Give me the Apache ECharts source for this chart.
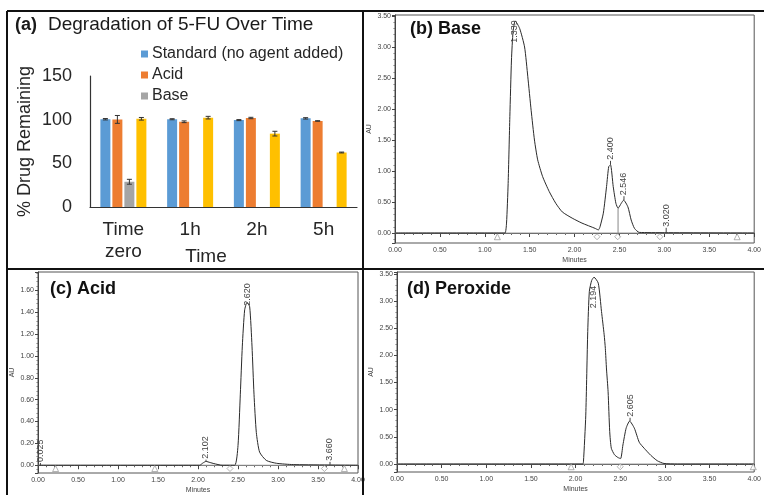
<!DOCTYPE html>
<html>
<head>
<meta charset="utf-8">
<script src="https://cdn.jsdelivr.net/npm/echarts@6/dist/echarts.min.js"></script>
<style>
html,body{margin:0;padding:0;background:#fff;}
#c{width:764px;height:495px;}
</style>
</head>
<body>
<div id="c"></div>
<script>
// ---------- Panel (a): bar chart data ----------
const barCategories = ['Time\nzero', '1h', '2h', '5h'];
const legendNames = ['Standard (no agent added)', 'Acid', 'Base'];
const standardVals = [100.5, 100.5, 99.5, 101.5];
const standardErr = [0.8, 0.6, 0.6, 0.8];
const acidVals = [100.3, 97.6, 101.9, 98.5];
const acidErr = [4.5, 1.0, 0.8, 0.3];
const baseVals = [28.9, null, null, null];
const baseErr = [2.8, null, null, null];
const peroxideVals = [101.0, 102.3, 84.0, 62.4];
const peroxideErr = [1.5, 1.5, 2.7, 0.5];
const barYTicks = [0, 50, 100, 150];

// ---------- Panel (b): Base chromatogram ----------
const bTime = [0, 1.15, 1.224, 1.242, 1.26, 1.279, 1.297, 1.315, 1.339, 1.388, 1.443, 1.479, 1.516, 1.553, 1.589, 1.644, 1.717, 1.79, 1.863, 1.973, 2.082, 2.228, 2.265, 2.283, 2.32, 2.356, 2.38, 2.40, 2.43, 2.46, 2.484, 2.52, 2.546, 2.594, 2.63, 2.667, 2.72, 3.0, 4.0];
const bAU   = [0, 0, 0.0, 0.16, 0.8, 1.88, 2.79, 3.25, 3.42, 3.30, 3.00, 2.52, 1.98, 1.50, 1.18, 0.91, 0.67, 0.48, 0.34, 0.24, 0.16, 0.075, 0.05, 0.10, 0.32, 0.75, 1.07, 1.10, 0.75, 0.48, 0.40, 0.48, 0.53, 0.42, 0.21, 0.075, 0.01, 0.005, 0];
const bTriTimes = [1.14, 3.81];
const bDiaTimes = [2.25, 2.48, 2.95];
const bPeakTimes = [1.333, 2.40, 2.55, 3.02];
const bPeakAU = [3.42, 1.10, 0.53, 0.0];
const bLabelAU = [3.07, 1.18, 0.61, 0.10];
const bPeakText = ['1.339', '2.400', '2.546', '3.020'];
const bDropTime = [2.484, 2.484];
const bDropAU = [0, 0.40];

// ---------- Panel (c): Acid chromatogram ----------
const cTime = [0, 2.02, 2.06, 2.10, 2.15, 2.2, 2.3, 2.458, 2.5, 2.529, 2.554, 2.583, 2.613, 2.646, 2.675, 2.70, 2.729, 2.77, 2.854, 2.98, 3.19, 4.0];
const cAU   = [0, 0, 0.02, 0.035, 0.025, 0.015, 0, 0, 0.18, 0.65, 1.09, 1.42, 1.49, 1.45, 1.09, 0.65, 0.30, 0.12, 0.044, 0.018, 0.006, 0];
const cTriTimes = [0.22, 1.46, 3.83];
const cDiaTimes = [2.40, 3.58];
const cPeakTimes = [0.03, 2.10, 2.62, 3.65];
const cPeakAU = [0, 0.035, 1.49, 0];
const cLabelAU = [0.03, 0.06, 1.46, 0.04];
const cPeakText = ['0.025', '2.102', '2.620', '3.660'];

// ---------- Panel (d): Peroxide chromatogram ----------
const dTime = [0, 2.08, 2.088, 2.114, 2.136, 2.154, 2.18, 2.206, 2.254, 2.29, 2.32, 2.333, 2.346, 2.364, 2.382, 2.40, 2.436, 2.474, 2.504, 2.53, 2.566, 2.605, 2.658, 2.713, 2.768, 2.842, 2.915, 2.99, 3.14, 4.0];
const dAU   = [0, 0, 0.04, 0.9, 2.44, 3.18, 3.38, 3.44, 3.33, 2.81, 2.38, 2.13, 1.75, 1.33, 0.60, 0.29, 0.17, 0.12, 0.10, 0.35, 0.66, 0.79, 0.66, 0.40, 0.29, 0.16, 0.06, 0.01, 0, 0];
const dTriTimes = [1.95, 3.99];
const dDiaTimes = [2.50];
const dPeakTimes = [2.20, 2.61];
const dPeakAU = [3.44, 0.79];
const dLabelAU = [2.87, 0.87];
const dPeakText = ['2.194', '2.605'];

const FONT = '"Liberation Sans", Arial, sans-serif';
const chart = echarts.init(document.getElementById('c'), null, {renderer: 'canvas'});

// bar layout constants
const BW = 10, BGAP = 2;
function errSeries(name, vals, errs, idx) {
  const offset = (idx - 1.5) * (BW + BGAP);
  return {
    type: 'custom', name: name + ' err', xAxisIndex: 0, yAxisIndex: 0, z: 5,
    data: vals.map((v, i) => (v == null ? [i, NaN, NaN] : [i, v, errs[i]])),
    renderItem: function (params, api) {
      const v = api.value(1), e = api.value(2);
      if (isNaN(v)) return null;
      const top = api.coord([api.value(0), v + e]);
      const bot = api.coord([api.value(0), v - e]);
      const x = top[0] + offset;
      const st = {stroke: '#333', lineWidth: 1};
      return {type: 'group', children: [
        {type: 'line', shape: {x1: x, y1: top[1], x2: x, y2: bot[1]}, style: st},
        {type: 'line', shape: {x1: x - 2.5, y1: top[1], x2: x + 2.5, y2: top[1]}, style: st},
        {type: 'line', shape: {x1: x - 2.5, y1: bot[1], x2: x + 2.5, y2: bot[1]}, style: st}
      ]};
    }
  };
}

function zip(a, b) { return a.map((v, i) => [v, b[i]]); }

function chromXAxis(gi) {
  return {
    type: 'value', gridIndex: gi, min: 0, max: 4, interval: 0.5,
    name: 'Minutes', nameLocation: 'middle', nameGap: 14,
    nameTextStyle: {fontSize: 7, color: '#444', fontFamily: FONT},
    axisLine: {show: true, lineStyle: {color: '#444', width: 1}},
    axisTick: {show: true, length: 4, lineStyle: {color: '#444'}},
    minorTick: {show: true, splitNumber: 5, length: 2, lineStyle: {color: '#666'}},
    splitLine: {show: false},
    axisLabel: {fontSize: 7, color: '#444', fontFamily: FONT, margin: 4,
      formatter: v => v.toFixed(2)}
  };
}
function chromYAxis(gi, min, max, split) {
  return {
    type: 'value', gridIndex: gi, min: min, max: max, splitNumber: split,
    name: 'AU', nameLocation: 'middle', nameGap: 22,
    nameTextStyle: {fontSize: 7, color: '#444', fontFamily: FONT},
    axisLine: {show: true, lineStyle: {color: '#444', width: 1}},
    axisTick: {show: true, length: 3, lineStyle: {color: '#444'}},
    minorTick: {show: true, splitNumber: 5, length: 1.5, lineStyle: {color: '#777'}},
    splitLine: {show: false},
    axisLabel: {fontSize: 7, color: '#444', fontFamily: FONT, margin: 4,
      showMinLabel: false, showMaxLabel: true,
      formatter: v => (Math.abs(v * 100 - Math.round(v * 100)) < 1e-6 && v >= 0 ? v.toFixed(2) : '')}
  };
}
function chromSeries(gi, time, au, triTimes, diaTimes, markY, peakT, peakA, labA, peakTxt) {
  const list = [
    {type: 'line', xAxisIndex: gi, yAxisIndex: gi, data: [[0, 0], [4, 0]], symbol: 'none',
      lineStyle: {color: '#999', width: 1}, silent: true, z: 1},
    {type: 'line', xAxisIndex: gi, yAxisIndex: gi, data: zip(time, au), symbol: 'none',
      smooth: 0.2, lineStyle: {color: '#2a2a2a', width: 1}, z: 3},
    {type: 'scatter', xAxisIndex: gi, yAxisIndex: gi, data: triTimes.map(t => [t, markY]),
      symbol: 'triangle', symbolSize: 6, itemStyle: {color: '#fff', borderColor: '#888', borderWidth: 0.8}, z: 4},
    {type: 'scatter', xAxisIndex: gi, yAxisIndex: gi, data: diaTimes.map(t => [t, markY]),
      symbol: 'diamond', symbolSize: 6, itemStyle: {color: '#fff', borderColor: '#888', borderWidth: 0.8}, z: 4},
    {type: 'custom', xAxisIndex: gi, yAxisIndex: gi, z: 6,
      data: peakT.map((t, i) => [t, peakA[i], labA[i]]),
      renderItem: function (params, api) {
        const t = api.value(0);
        const pk = api.coord([t, api.value(1)]);
        const lb = api.coord([t, api.value(2)]);
        const children = [{type: 'text', x: lb[0], y: lb[1], rotation: Math.PI / 2,
          style: {text: peakTxt[params.dataIndex], fill: '#444', font: '9px ' + FONT,
            align: 'left', verticalAlign: 'middle'}}];
        if (lb[1] < pk[1]) {
          children.push({type: 'line', shape: {x1: pk[0], y1: pk[1], x2: lb[0], y2: lb[1] + 1},
            style: {stroke: '#444', lineWidth: 1}});
        }
        return {type: 'group', children: children};
      }}
  ];
  return list;
}

const series = [
  {type: 'bar', name: legendNames[0], xAxisIndex: 0, yAxisIndex: 0, data: standardVals,
    barWidth: BW, barGap: (BGAP / BW * 100) + '%', itemStyle: {color: '#5B9BD5'}},
  {type: 'bar', name: legendNames[1], xAxisIndex: 0, yAxisIndex: 0, data: acidVals,
    barWidth: BW, barGap: (BGAP / BW * 100) + '%', itemStyle: {color: '#ED7D31'}},
  {type: 'bar', name: legendNames[2], xAxisIndex: 0, yAxisIndex: 0, data: baseVals.map(v => v == null ? '-' : v),
    barWidth: BW, barGap: (BGAP / BW * 100) + '%', itemStyle: {color: '#A5A5A5'}},
  {type: 'bar', name: 'Peroxide', xAxisIndex: 0, yAxisIndex: 0, data: peroxideVals,
    barWidth: BW, barGap: (BGAP / BW * 100) + '%', itemStyle: {color: '#FFC000'}},
  errSeries('std', standardVals, standardErr, 0),
  errSeries('acid', acidVals, acidErr, 1),
  errSeries('base', baseVals, baseErr, 2),
  errSeries('perox', peroxideVals, peroxideErr, 3)
]
.concat(chromSeries(1, bTime, bAU, bTriTimes, bDiaTimes, -0.06, bPeakTimes, bPeakAU, bLabelAU, bPeakText))
.concat([{type: 'line', xAxisIndex: 1, yAxisIndex: 1, data: zip(bDropTime, bDropAU), symbol: 'none',
  lineStyle: {color: '#888', width: 1}, z: 2}])
.concat(chromSeries(2, cTime, cAU, cTriTimes, cDiaTimes, -0.03, cPeakTimes, cPeakAU, cLabelAU, cPeakText))
.concat(chromSeries(3, dTime, dAU, dTriTimes, dDiaTimes, -0.05, dPeakTimes, dPeakAU, dLabelAU, dPeakText));

const option = {
  animation: false,
  backgroundColor: '#fff',
  textStyle: {fontFamily: FONT},
  legend: {
    data: legendNames, orient: 'vertical', left: 136, top: 41,
    icon: 'rect', itemWidth: 7, itemHeight: 7, itemGap: 5,
    textStyle: {fontSize: 16, color: '#262626', fontFamily: FONT, lineHeight: 16, padding: [0, 0, 0, -1]}
  },
  grid: [
    {left: 90, right: 407, top: 76, bottom: 288},
    {left: 395, right: 4, top: 15, bottom: 252, show: true, borderColor: '#555', borderWidth: 1},
    {left: 38, right: 406, top: 272, bottom: 15, show: true, borderColor: '#555', borderWidth: 1},
    {left: 397, right: 4, top: 272, bottom: 23, show: true, borderColor: '#555', borderWidth: 1}
  ],
  xAxis: [
    {type: 'category', gridIndex: 0, data: barCategories,
      axisLine: {show: true, lineStyle: {color: '#333', width: 1.2}},
      axisTick: {show: false},
      axisLabel: {fontSize: 19, color: '#262626', fontFamily: FONT, margin: 12, lineHeight: 22}},
    chromXAxis(1), chromXAxis(2), chromXAxis(3)
  ],
  yAxis: [
    {type: 'value', gridIndex: 0, min: 0, max: 150, interval: 50,
      name: '% Drug Remaining', nameLocation: 'middle', nameGap: 56,
      nameTextStyle: {fontSize: 18, color: '#262626', fontFamily: FONT},
      axisLine: {show: true, lineStyle: {color: '#333', width: 1.2}},
      axisTick: {show: false}, splitLine: {show: false},
      axisLabel: {fontSize: 18, color: '#262626', fontFamily: FONT, margin: 18,
        customValues: barYTicks}},
    chromYAxis(1, -0.161, 3.516, 7),
    chromYAxis(2, -0.071, 1.768, 9),
    chromYAxis(3, -0.147, 3.536, 7)
  ],
  series: series,
  graphic: [
    {type: 'text', left: 15, top: 16, style: {text: '(a)', font: 'bold 18px ' + FONT, fill: '#1a1a1a'}},
    {type: 'text', left: 48, top: 15, style: {text: 'Degradation of 5-FU Over Time', font: '19px ' + FONT, fill: '#1a1a1a'}},
    {type: 'text', x: 206, y: 257, style: {text: 'Time', font: '19px ' + FONT, fill: '#262626', align: 'center', verticalAlign: 'middle'}},
    {type: 'text', left: 410, top: 20, style: {text: '(b) Base', font: 'bold 18px ' + FONT, fill: '#111'}},
    {type: 'text', left: 50, top: 280, style: {text: '(c) Acid', font: 'bold 18px ' + FONT, fill: '#111'}},
    {type: 'text', left: 407, top: 280, style: {text: '(d) Peroxide', font: 'bold 18px ' + FONT, fill: '#111'}},
    {type: 'line', shape: {x1: 7, y1: 11, x2: 764, y2: 11}, style: {stroke: '#111', lineWidth: 2}, z: 100},
    {type: 'line', shape: {x1: 7, y1: 11, x2: 7, y2: 495}, style: {stroke: '#111', lineWidth: 2}, z: 100},
    {type: 'line', shape: {x1: 363, y1: 11, x2: 363, y2: 495}, style: {stroke: '#111', lineWidth: 2}, z: 100},
    {type: 'line', shape: {x1: 7, y1: 269, x2: 764, y2: 269}, style: {stroke: '#111', lineWidth: 2}, z: 100}
  ]
};
chart.setOption(option);
</script>
</body>
</html>
